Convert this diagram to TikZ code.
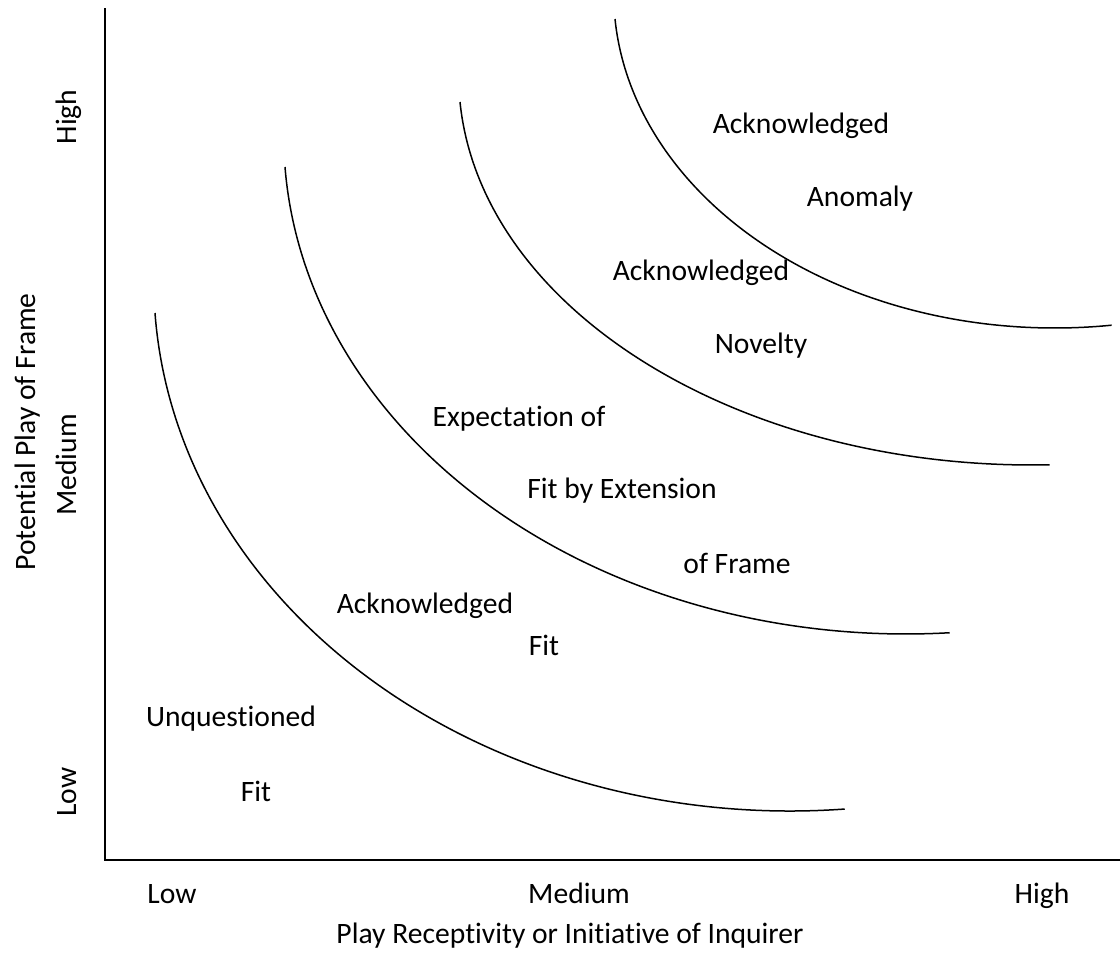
\documentclass[tikz,border=0pt]{standalone}
\usepackage{fontspec}
\setmainfont{Carlito}[Ligatures=NoCommon]
\usepackage{tikz}

\begin{document}
\begin{tikzpicture}[x=0.5pt,y=-0.5pt,every node/.style={font=\fontsize{14.8}{18}\selectfont,inner sep=0pt,anchor=base},axisline/.style={line width=1.1pt},band/.style={line width=0.75pt}]
\useasboundingbox (0,0) rectangle (1120,954);
\coordinate (ytop) at (105,8);
\coordinate (origin) at (105,860);
\coordinate (xend) at (1120,860);
\draw[axisline] (ytop) -- (origin) -- (xend);
\draw[band] (155,313) arc[start angle=176.44,end angle=85.04,x radius=636,y radius=531];
\draw[band] (285,167) arc[start angle=176.32,end angle=85.94,x radius=622,y radius=499];
\draw[band] (460,102) arc[start angle=176.03,end angle=88.3,x radius=574,y radius=390];
\draw[band] (615,19) arc[start angle=175.55,end angle=82.57,x radius=441,y radius=335];
\node (anomalyA) at (801,133) {Acknowledged};
\node (anomalyB) at (860,206) {Anomaly};
\node (noveltyA) at (701,280) {Acknowledged};
\node (noveltyB) at (761,353) {Novelty};
\node (extensionA) at (519,426) {Expectation of};
\node (extensionB) at (622,498) {Fit by Extension};
\node (extensionC) at (737,573) {of Frame};
\node (fitA) at (425,613) {Acknowledged};
\node (fitB) at (544,655) {Fit};
\node (unqfitA) at (231,726) {Unquestioned};
\node (unqfitB) at (256,801) {Fit};
\node (xlow) at (172,903) {Low};
\node (xmed) at (579,903) {Medium};
\node (xhigh) at (1042,903) {High};
\node (xtitle) at (570,943) {Play Receptivity or Initiative of Inquirer};
\node[rotate=90] (yhigh) at (76,117) {High};
\node[rotate=90] (ymed) at (76,465) {Medium};
\node[rotate=90] (ylow) at (76,792) {Low};
\node[rotate=90] (ytitle) at (35,432) {Potential Play of Frame};
\end{tikzpicture}
\end{document}
